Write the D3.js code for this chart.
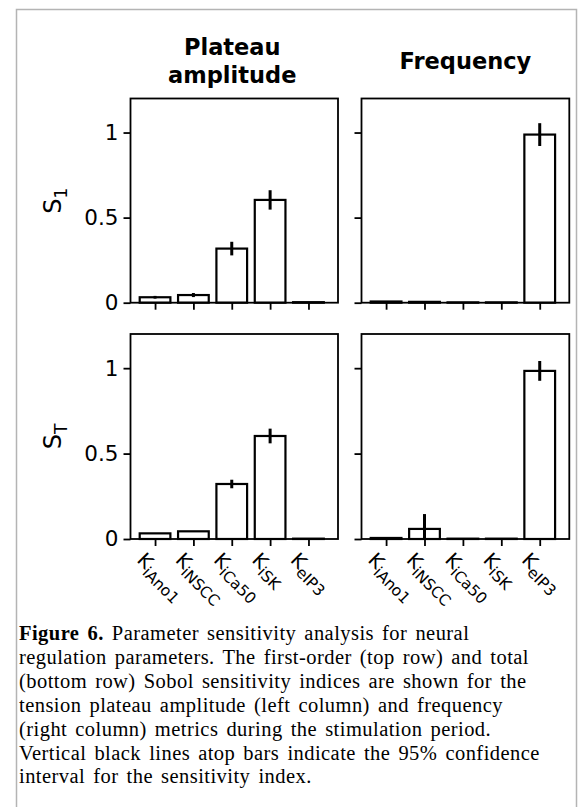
<!DOCTYPE html>
<html>
<head>
<meta charset="utf-8">
<script src="https://cdn.jsdelivr.net/npm/d3@7"></script>
<style>
  body { margin: 0; background: #fff; }
  svg { display: block; }
</style>
</head>
<body>
<div id="container"></div>
<script>
// parameter names (shown as K with subscript)
const params = ["iAno1", "iNSCC", "iCa50", "iSK", "eIP3"];
const colTitles = [["Plateau", "amplitude"], ["Frequency"]];
const rowLabels = [["S", "1"], ["S", "T"]];
const yTicks = [0, 0.5, 1];
const yTickLabels = ["0", "0.5", "1"];

// first-order indices
const s1Amp = [0.032, 0.045, 0.318, 0.604, 0.003];
const s1AmpErr = [0.008, 0.012, 0.04, 0.057, 0];
const s1Freq = [0.007, 0.005, 0.002, 0.002, 0.988];
const s1FreqErr = [0, 0, 0, 0, 0.067];
// total indices
const sTAmp = [0.033, 0.045, 0.322, 0.603, 0.002];
const sTAmpErr = [0, 0, 0.025, 0.043, 0];
const sTFreq = [0.006, 0.059, 0.002, 0.002, 0.984];
const sTFreqErr = [0, 0.087, 0, 0, 0.058];

const caption = [
  [["Figure 6.", true], [" Parameter sensitivity analysis for neural", false]],
  [["regulation parameters. The first-order (top row) and total", false]],
  [["(bottom row) Sobol sensitivity indices are shown for the", false]],
  [["tension plateau amplitude (left column) and frequency", false]],
  [["(right column) metrics during the stimulation period.", false]],
  [["Vertical black lines atop bars indicate the 95% confidence", false]],
  [["interval for the sensitivity index.", false]]
];

const width = 581, height = 807;
const svg = d3.select('#container').append('svg')
  .attr('width', width)
  .attr('height', height);

// outer frame of the figure box
svg.append('path')
  .attr('d', `M16.5,${height} V9.5 H576.5 V${height}`)
  .attr('fill', 'none')
  .attr('stroke', '#b4b4b4')
  .attr('stroke-width', 1.5);

const cols = [[130.5, 338], [361.5, 569.3]];
const rows = [[98.5, 302.7], [334, 539]];
const panels = [
  { r: 0, c: 0, vals: s1Amp, errs: s1AmpErr },
  { r: 0, c: 1, vals: s1Freq, errs: s1FreqErr },
  { r: 1, c: 0, vals: sTAmp, errs: sTAmpErr },
  { r: 1, c: 1, vals: sTFreq, errs: sTFreqErr }
];

const font = "'DejaVu Sans', sans-serif";

panels.forEach(p => {
  const x = d3.scaleLinear().domain([-0.64, 4.77]).range(cols[p.c]);
  const y = d3.scaleLinear().domain([0, 1.2]).range([rows[p.r][1], rows[p.r][0]]);
  const g = svg.append('g');

  // bars
  g.selectAll('rect.bar')
    .data(p.vals)
    .enter().append('rect')
    .attr('class', 'bar')
    .attr('x', (d, i) => x(i - 0.4))
    .attr('y', d => y(d))
    .attr('width', x(0.4) - x(-0.4))
    .attr('height', d => y(0) - y(d))
    .attr('fill', '#fff')
    .attr('stroke', '#000')
    .attr('stroke-width', 2.2);

  // error bars
  g.selectAll('line.err')
    .data(p.vals)
    .enter().append('line')
    .attr('class', 'err')
    .attr('x1', (d, i) => x(i))
    .attr('x2', (d, i) => x(i))
    .attr('y1', (d, i) => y(Math.max(0, d - p.errs[i])))
    .attr('y2', (d, i) => y(d + p.errs[i]))
    .attr('stroke', '#000')
    .attr('stroke-width', 3);

  // frame
  g.append('rect')
    .attr('x', cols[p.c][0])
    .attr('y', rows[p.r][0])
    .attr('width', cols[p.c][1] - cols[p.c][0])
    .attr('height', rows[p.r][1] - rows[p.r][0])
    .attr('fill', 'none')
    .attr('stroke', '#000')
    .attr('stroke-width', 1.8);

  // y axis
  const yAxis = d3.axisLeft(y).tickValues(yTicks).tickSize(7).tickPadding(5)
    .tickFormat((d, i) => p.c === 0 ? yTickLabels[i] : '');
  const ya = g.append('g')
    .attr('transform', `translate(${cols[p.c][0]},0)`)
    .call(yAxis);
  ya.select('.domain').remove();
  ya.selectAll('line').attr('stroke-width', 1.8);
  ya.selectAll('text').style('font-family', font).style('font-size', '21.5px').attr('fill', '#000');

  // x axis
  const xAxis = d3.axisBottom(x).tickValues(d3.range(params.length)).tickSize(7).tickFormat('');
  const xa = g.append('g')
    .attr('transform', `translate(0,${rows[p.r][1]})`)
    .call(xAxis);
  xa.select('.domain').remove();
  xa.selectAll('line').attr('stroke-width', 1.8);

  // rotated parameter labels on the bottom row
  if (p.r === 1) {
    params.forEach((name, i) => {
      const t = g.append('text')
        .attr('transform', `translate(${x(i) - 19},${rows[p.r][1] + 22}) rotate(45)`)
        .style('font-family', font)
        .style('font-size', '19.5px');
      t.append('tspan').text('K');
      t.append('tspan').attr('dy', 5).style('font-size', '15.5px').text(name);
    });
  }
});

// column titles
colTitles.forEach((lines, c) => {
  const cx = (cols[c][0] + cols[c][1]) / 2 - (c === 0 ? 2 : 0);
  const y0 = lines.length === 2 ? 55 : 69;
  lines.forEach((l, k) => {
    svg.append('text')
      .attr('x', cx)
      .attr('y', y0 + k * 28)
      .attr('text-anchor', 'middle')
      .style('font-family', font)
      .style('font-weight', 'bold')
      .style('font-size', '22.5px')
      .text(l);
  });
});

// row labels
rowLabels.forEach((lab, r) => {
  const cy = (rows[r][0] + rows[r][1]) / 2;
  const t = svg.append('text')
    .attr('transform', `translate(61,${cy}) rotate(-90)`)
    .attr('text-anchor', 'middle')
    .style('font-family', font)
    .style('font-size', '24px');
  t.append('tspan').text(lab[0]);
  t.append('tspan').attr('dy', 6).style('font-size', '17px').text(lab[1]);
});

// caption
caption.forEach((line, k) => {
  const t = svg.append('text')
    .attr('x', 19)
    .attr('y', 640 + k * 23.9)
    .style('font-family', "'Liberation Serif', serif")
    .style('font-size', '20.5px')
    .style('letter-spacing', '0.45px')
    .style('word-spacing', '2.5px');
  line.forEach(([s, b]) => {
    t.append('tspan').style('font-weight', b ? 'bold' : 'normal').text(s);
  });
});
</script>
</body>
</html>
